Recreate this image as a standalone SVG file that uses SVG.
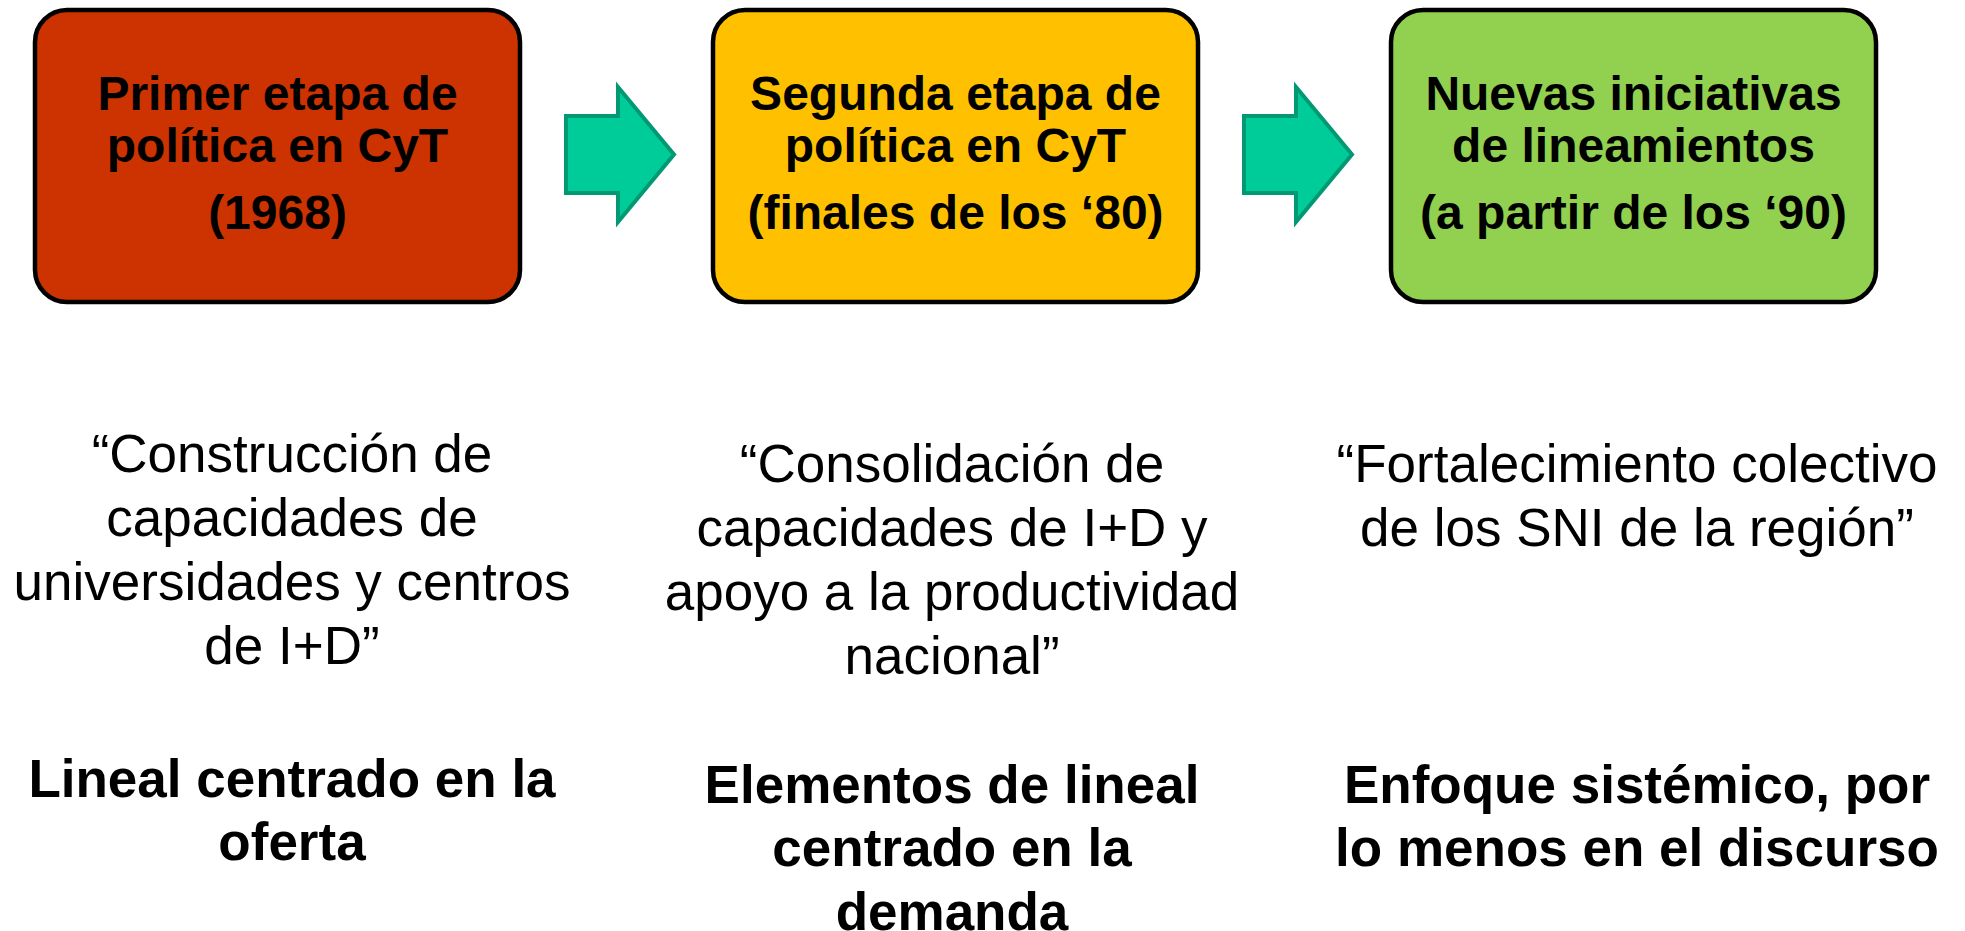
<svg xmlns="http://www.w3.org/2000/svg" width="1965" height="931" viewBox="0 0 1965 931">
<style>
.box{stroke:#000;stroke-width:4.5}
.arrow{fill:#00CC99;stroke:#009973;stroke-width:4;stroke-linejoin:miter}
.t{font-family:"Liberation Sans",Arial,sans-serif;font-weight:bold;font-size:48px;fill:#000;text-anchor:middle}
.q{font-family:"Liberation Sans",Arial,sans-serif;font-size:53px;fill:#000;text-anchor:middle}
.b{font-family:"Liberation Sans",Arial,sans-serif;font-weight:bold;font-size:53px;fill:#000;text-anchor:middle}
</style>
<rect width="1965" height="931" fill="#fff"/>
<g id="connectors">
<polygon class="arrow" points="566,116 618,116 618,87 674,154.5 618,222 618,193 566,193"/>
<polygon class="arrow" points="1244,116 1296,116 1296,87 1352,154.5 1296,222 1296,193 1244,193"/>
</g>
<g id="node1">
<rect class="box" x="35" y="10" width="485" height="292" rx="32" fill="#CC3300"/>
<text class="t" x="277.5" y="110">Primer etapa de</text>
<text class="t" x="277.5" y="162">política en CyT</text>
<text class="t" x="277.5" y="229">(1968)</text>
</g>
<g id="node2">
<rect class="box" x="713" y="10" width="485" height="292" rx="32" fill="#FFC000"/>
<text class="t" x="955.5" y="110">Segunda etapa de</text>
<text class="t" x="955.5" y="162">política en CyT</text>
<text class="t" x="955.5" y="229">(finales de los ‘80)</text>
</g>
<g id="node3">
<rect class="box" x="1391" y="10" width="485" height="292" rx="32" fill="#92D050"/>
<text class="t" x="1633.5" y="110">Nuevas iniciativas</text>
<text class="t" x="1633.5" y="162">de lineamientos</text>
<text class="t" x="1633.5" y="229">(a partir de los ‘90)</text>
</g>
<g id="desc1">
<text class="q" x="292" y="472">“Construcción de</text>
<text class="q" x="292" y="536">capacidades de</text>
<text class="q" x="292" y="600">universidades y centros</text>
<text class="q" x="292" y="664">de I+D”</text>
<text class="b" x="292" y="797">Lineal centrado en la</text>
<text class="b" x="292" y="860">oferta</text>
</g>
<g id="desc2">
<text class="q" x="952" y="482">“Consolidación de</text>
<text class="q" x="952" y="546">capacidades de I+D y</text>
<text class="q" x="952" y="610">apoyo a la productividad</text>
<text class="q" x="952" y="674">nacional”</text>
<text class="b" x="952" y="803">Elementos de lineal</text>
<text class="b" x="952" y="866">centrado en la</text>
<text class="b" x="952" y="930">demanda</text>
</g>
<g id="desc3">
<text class="q" x="1637" y="482">“Fortalecimiento colectivo</text>
<text class="q" x="1637" y="546">de los SNI de la región”</text>
<text class="b" x="1637" y="803">Enfoque sistémico, por</text>
<text class="b" x="1637" y="866">lo menos en el discurso</text>
</g>
</svg>
